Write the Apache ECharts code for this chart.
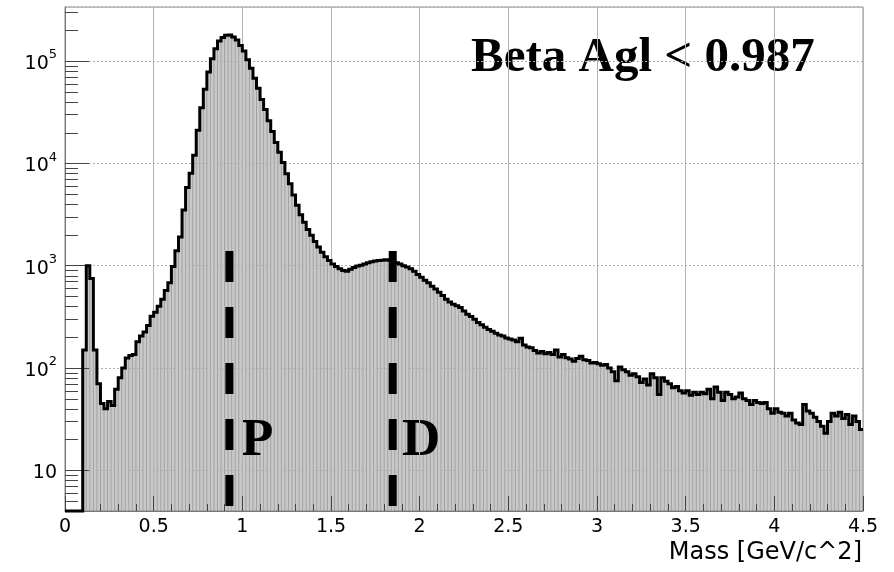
<!DOCTYPE html>
<html><head><meta charset="utf-8">
<script src="https://cdn.jsdelivr.net/npm/echarts@6/dist/echarts.min.js"></script>
<style>html,body{margin:0;padding:0;background:#fff}#c{width:894px;height:572px}</style>
</head><body><div id="c"></div>
<script>
// Histogram: bins of 0.02 GeV/c^2 from 0 to 4.5
const binWidth = 0.02;
const counts = [
  0, 0, 0, 0, 0, 150, 1000, 750, 150, 70,
  45, 40, 47, 43, 62, 80, 100, 125, 132, 135,
  180, 205, 225, 260, 320, 350, 400, 470, 570, 680,
  980, 1400, 1900, 3500, 5800, 8000, 12000, 21000, 35000, 53000,
  78000, 105000, 132000, 157000, 170000, 178000, 179000, 172000, 160000, 142000,
  125000, 103000, 85000, 68000, 54000, 42000, 33500, 26000, 20500, 16000,
  12800, 10200, 7900, 6300, 4900, 3900, 3150, 2650, 2250, 1980,
  1720, 1520, 1350, 1220, 1120, 1040, 980, 930, 895, 880,
  920, 960, 990, 1010, 1040, 1070, 1090, 1110, 1120, 1130,
  1140, 1130, 1100, 1070, 1040, 1000, 970, 930, 880, 820,
  770, 720, 680, 630, 590, 550, 510, 470, 440, 420,
  405, 390, 360, 335, 318, 300, 278, 265, 250, 238,
  228, 218, 210, 205, 196, 192, 188, 180, 195, 168,
  160, 158, 148, 140, 145, 138, 142, 135, 150, 128,
  135, 126, 122, 116, 124, 130, 120, 118, 112, 113,
  110, 106, 108, 100, 92, 75, 102, 96, 92, 85,
  88, 82, 72, 78, 68, 88, 80, 55, 80, 74,
  70, 64, 66, 60, 57, 60, 54, 58, 55, 58,
  56, 62, 50, 65, 58, 48, 58, 55, 50, 52,
  57, 50, 48, 44, 48, 46, 45, 46, 40, 36,
  40, 37, 36, 34, 36, 31, 29, 28, 44, 38,
  36, 33, 30, 27, 23, 30, 36, 34, 37, 32,
  35, 28, 34, 30, 25
];
const xRange = [0, 4.5];
const yRange = [4, 337000];
const yMinorTicks = [5, 6, 7, 8, 9, 20, 30, 40, 50, 60, 70, 80, 90,
  200, 300, 400, 500, 600, 700, 800, 900,
  2000, 3000, 4000, 5000, 6000, 7000, 8000, 9000,
  20000, 30000, 40000, 50000, 60000, 70000, 80000, 90000,
  200000, 300000];
const markerMass = [0.927, 1.848];
const markerNames = ['P', 'D'];
const markerTop = 1390;
const markerBottom = 4.4;
const titleText = 'Beta Agl < 0.987';
const xAxisTitle = 'Mass [GeV/c^2]';

const chart = echarts.init(document.getElementById('c'), null, {renderer: 'canvas'});
const binData = counts.map((c, i) => [i * binWidth, (i + 1) * binWidth, c]);

const series = [
  {
    type: 'custom', z: -1, silent: true, animation: false,
    data: binData,
    encode: {x: [0, 1], y: 2},
    renderItem: function (params, api) {
      const v = api.value(2);
      if (!(v > 0)) return;
      const pTop = api.coord([api.value(0), v]);
      const pBot = api.coord([api.value(1), yRange[0]]);
      return {type: 'group', children: [
        {type: 'rect', shape: {x: pTop[0], y: pTop[1], width: pBot[0] - pTop[0] + 0.4, height: pBot[1] - pTop[1]}, style: {fill: '#c9c9c9'}},
        {type: 'line', shape: {x1: pTop[0], y1: pTop[1], x2: pTop[0], y2: pBot[1]}, style: {stroke: '#a2a2a2', lineWidth: 1}}
      ]};
    }
  },
  {
    type: 'custom', z: 3, silent: true, animation: false,
    data: [[0, 10]],
    encode: {x: 0, y: 1},
    renderItem: function (params, api) {
      const pts = [];
      counts.forEach((c, i) => {
        const v = Math.max(c, yRange[0]);
        pts.push(api.coord([i * binWidth, v]));
        pts.push(api.coord([(i + 1) * binWidth, v]));
      });
      return {type: 'polyline', shape: {points: pts}, style: {stroke: '#000', lineWidth: 3, fill: null, lineJoin: 'miter'}};
    }
  },
  {
    type: 'custom', z: 5, silent: true, animation: false,
    data: yMinorTicks.map(v => [xRange[0], v]),
    encode: {x: 0, y: 1},
    renderItem: function (params, api) {
      const p = api.coord([api.value(0), api.value(1)]);
      const y = Math.round(p[1]) + 0.5;
      return {type: 'line', shape: {x1: p[0], y1: y, x2: p[0] + 13, y2: y}, style: {stroke: '#444', lineWidth: 1}};
    }
  }
];
markerMass.forEach(m => {
  series.push({
    type: 'line', z: 4, silent: true, animation: false, symbol: 'none',
    data: [[m, markerTop], [m, markerBottom]],
    lineStyle: {color: '#000', width: 8, type: [31, 25], cap: 'butt'}
  });
});

chart.setOption({
  animation: false,
  grid: {left: 65, right: 31, top: 7, bottom: 61, show: true, borderColor: '#8a8a8a', borderWidth: 1},
  xAxis: {
    type: 'value', min: xRange[0], max: xRange[1], interval: 0.5,
    axisLine: {show: true, lineStyle: {color: '#777'}},
    axisTick: {show: true, inside: true, length: 15, lineStyle: {color: '#444'}},
    minorTick: {show: true, splitNumber: 5, length: 7, lineStyle: {color: '#444'}},
    axisLabel: {fontFamily: 'DejaVu Sans', fontSize: 19, color: '#000', margin: 7},
    splitLine: {show: true, lineStyle: {color: '#b3b3b3', width: 1}}
  },
  yAxis: {
    type: 'log', logBase: 10, min: yRange[0], max: yRange[1],
    axisLine: {show: true, lineStyle: {color: '#777'}},
    axisTick: {show: true, inside: true, length: 24, lineStyle: {color: '#444'}},
    minorTick: {show: false},
    axisLabel: {
      margin: 8, showMinLabel: false, showMaxLabel: false,
      formatter: function (v) {
        const n = Math.round(Math.log10(v));
        if (n === 1) return '{b|10}';
        return '{b|10}{s|' + n + '}';
      },
      rich: {
        b: {fontFamily: 'DejaVu Sans', fontSize: 19, color: '#000', padding: [6, 0, 0, 0]},
        s: {fontFamily: 'DejaVu Sans', fontSize: 13, color: '#000', verticalAlign: 'top'}
      }
    },
    splitLine: {show: true, lineStyle: {color: '#b0b0b0', type: [2, 2]}}
  },
  graphic: [
    {type: 'text', left: 471, top: 34, style: {text: titleText, font: 'bold 49px "Liberation Serif"', fill: '#000'}},
    {type: 'text', left: 241, top: 415, style: {text: markerNames[0], font: 'bold 53px "Liberation Serif"', fill: '#000'}},
    {type: 'text', left: 402, top: 415, style: {text: markerNames[1], font: 'bold 53px "Liberation Serif"', fill: '#000'}},
    {type: 'text', right: 32, top: 541, style: {text: xAxisTitle, font: '24px "DejaVu Sans"', fill: '#000'}}
  ],
  series: series
});
</script>
</body></html>
